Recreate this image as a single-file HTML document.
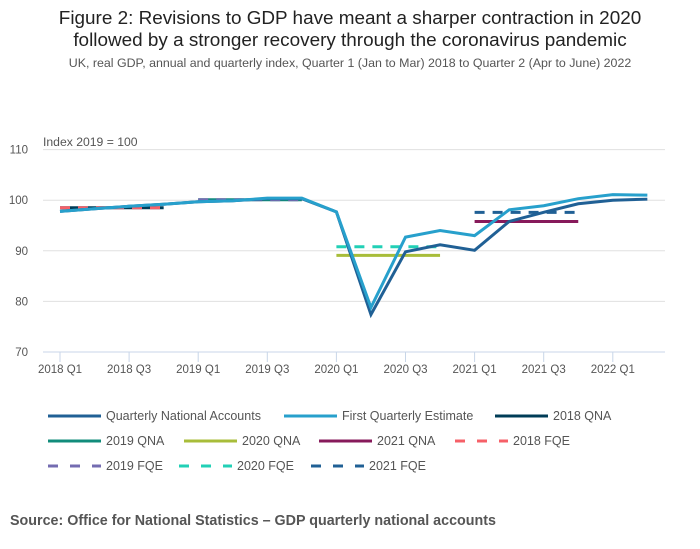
<!DOCTYPE html>
<html><head><meta charset="utf-8"><style>
body{margin:0;background:#fff;font-family:"Liberation Sans",sans-serif;}
#wrap{position:relative;width:700px;height:549px;overflow:hidden;}
.t{position:absolute;white-space:nowrap;}
</style></head><body>
<div id="wrap">
<div class="t" style="left:0;width:700px;text-align:center;top:8px;font-size:18.9px;line-height:22px;color:#222;">Figure 2: Revisions to GDP have meant a sharper contraction in 2020<br>followed by a stronger recovery through the coronavirus pandemic</div>
<div class="t" style="left:0;width:700px;text-align:center;top:56px;font-size:12.4px;color:#555;">UK, real GDP, annual and quarterly index, Quarter 1 (Jan to Mar) 2018 to Quarter 2 (Apr to June) 2022</div>
<div class="t" style="left:43px;top:135px;font-size:12.2px;color:#555;">Index 2019 = 100</div>
<svg id="chart" width="700" height="549" style="position:absolute;left:0;top:0"></svg>
<div class="t" style="left:10px;top:513px;font-size:14.3px;font-weight:bold;color:#555;">Source: Office for National Statistics – GDP quarterly national accounts</div>
</div>
<script>
const categories=["2018 Q1","2018 Q2","2018 Q3","2018 Q4","2019 Q1","2019 Q2","2019 Q3","2019 Q4","2020 Q1","2020 Q2","2020 Q3","2020 Q4","2021 Q1","2021 Q2","2021 Q3","2021 Q4","2022 Q1","2022 Q2"];
const qna=[97.8,98.3,98.8,99.2,99.7,99.9,100.3,100.3,97.7,77.4,89.8,91.2,90.1,95.8,97.6,99.3,100.0,100.2];
const fqe=[97.8,98.3,98.8,99.2,99.7,99.9,100.4,100.4,97.7,78.8,92.7,94.0,93.0,98.1,98.9,100.3,101.1,101.0];
const annualNames=["2018 QNA","2019 QNA","2020 QNA","2021 QNA","2018 FQE","2019 FQE","2020 FQE","2021 FQE"];
const annualStart=[0,4,8,12,0,4,8,12];
const annualValues=[98.5,100.1,89.1,95.8,98.5,100.1,90.8,97.6];
const yTicks=[70,80,90,100,110];
const xTickIdx=[0,2,4,6,8,10,12,14,16];
const colors={"Quarterly National Accounts":"#206095","First Quarterly Estimate":"#27a0cc","2018 QNA":"#003c57","2019 QNA":"#118c7b","2020 QNA":"#a8bd3a","2021 QNA":"#871a5b","2018 FQE":"#f66068","2019 FQE":"#746cb1","2020 FQE":"#22d0b6","2021 FQE":"#206095"};
const NS="http://www.w3.org/2000/svg";
const svg=document.getElementById('chart');
const x=i=>60+i*34.55;
const y=v=>352-(v-70)*5.06;
function el(tag,attrs,parent){const e=document.createElementNS(NS,tag);for(const k in attrs)e.setAttribute(k,attrs[k]);(parent||svg).appendChild(e);return e;}
yTicks.forEach(v=>{
 const g=el('line',{x1:43,x2:665,y1:y(v),y2:y(v),stroke:v===70?'#c8d6e8':'#e0e0e0','stroke-width':1});
 
 
 const t=el('text',{x:28,y:y(v)+4,'font-size':11.5,fill:'#555','text-anchor':'end','font-family':'Liberation Sans, sans-serif'});
 t.textContent=v;
 
 
});
xTickIdx.forEach(i=>{
 const l=el('line',{x1:x(i),x2:x(i),y1:352,y2:362,stroke:'#c8d6e8'});
 
 
 const t=el('text',{x:x(i),y:373,'font-size':11.5,fill:'#555','text-anchor':'middle','font-family':'Liberation Sans, sans-serif'});
 t.textContent=categories[i];
 
 
});
annualNames.forEach((n,k)=>{
 const dashed=n.indexOf('FQE')>=0;
 const a={x1:x(annualStart[k]),x2:x(annualStart[k]+3),y1:y(annualValues[k]),y2:y(annualValues[k]),stroke:colors[n],'stroke-width':3};
 if(dashed)a['stroke-dasharray']='10 8';
 const l=el('line',a);
 
 
});
function path(vals,c,name){
 const p=el('polyline',{points:vals.map((v,i)=>x(i)+','+y(v)).join(' '),fill:'none',stroke:c,'stroke-width':3,'stroke-linejoin':'miter'});
 
 
}
path(qna,colors["Quarterly National Accounts"],'series-qna');
path(fqe,colors["First Quarterly Estimate"],'series-fqe');
const legendItems=[["Quarterly National Accounts",48,416],["First Quarterly Estimate",284,416],["2018 QNA",495,416],["2019 QNA",48,441],["2020 QNA",184,441],["2021 QNA",319,441],["2018 FQE",455,441],["2019 FQE",48,466],["2020 FQE",179,466],["2021 FQE",311,466]];
legendItems.forEach(([n,lx,ly])=>{
 const g=el('g',{});
 
 
 const a={x1:lx,x2:lx+53,y1:ly,y2:ly,stroke:colors[n],'stroke-width':3};
 if(n.indexOf('FQE')>=0)a['stroke-dasharray']='10 12';
 el('line',a,g);
 const t=el('text',{x:lx+58,y:ly+4,'font-size':12.5,fill:'#555','font-family':'Liberation Sans, sans-serif'},g);
 t.textContent=n;
});
</script>
</body></html>
